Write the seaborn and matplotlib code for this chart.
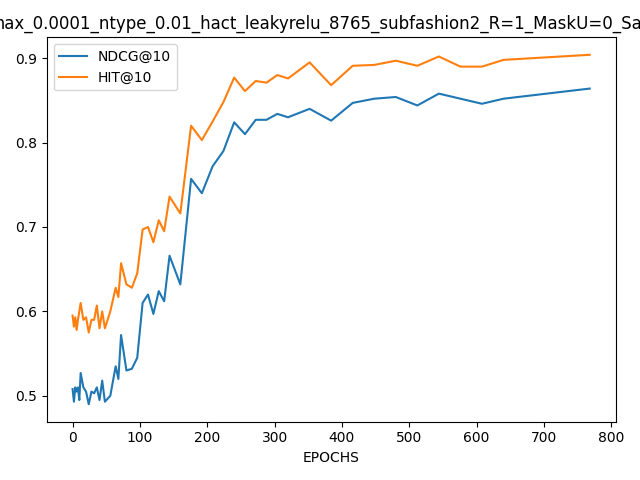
import matplotlib
matplotlib.use("Agg")
import matplotlib.pyplot as plt
import seaborn as sns
import pandas as pd

epochs = [0,2,4,6,8,10,12,16,20,24,28,32,36,40,44,48,56,64,68,72,80,88,96,104,112,120,128,136,144,160,176,192,208,224,240,256,272,288,304,320,352,384,416,448,480,512,544,576,608,640,704,768]
ndcg = [0.508,0.493,0.51,0.505,0.51,0.495,0.527,0.51,0.505,0.49,0.505,0.503,0.51,0.495,0.518,0.493,0.5,0.535,0.52,0.572,0.53,0.532,0.545,0.61,0.62,0.597,0.624,0.612,0.666,0.632,0.757,0.74,0.772,0.79,0.824,0.81,0.827,0.827,0.834,0.83,0.84,0.826,0.847,0.852,0.854,0.844,0.858,0.852,0.846,0.852,0.858,0.864]
hit = [0.595,0.582,0.593,0.578,0.59,0.6,0.61,0.59,0.593,0.575,0.59,0.59,0.607,0.58,0.6,0.58,0.6,0.628,0.617,0.657,0.632,0.628,0.645,0.697,0.7,0.682,0.708,0.695,0.736,0.716,0.82,0.803,0.825,0.848,0.877,0.861,0.873,0.871,0.88,0.876,0.895,0.868,0.891,0.892,0.897,0.891,0.902,0.89,0.89,0.898,0.901,0.904]

df = pd.DataFrame({"EPOCHS": epochs, "NDCG@10": ndcg, "HIT@10": hit})
fig, ax = plt.subplots(figsize=(6.4, 4.8), dpi=100)
sns.lineplot(data=df, x="EPOCHS", y="NDCG@10", ax=ax, label="NDCG@10", color="#1f77b4")
sns.lineplot(data=df, x="EPOCHS", y="HIT@10", ax=ax, label="HIT@10", color="#ff7f0e")
ax.set_ylabel("")
ax.set_xlabel("EPOCHS")
ax.legend(loc="upper left")
ax.set_title("max_0.0001_ntype_0.01_hact_leakyrelu_8765_subfashion2_R=1_MaskU=0_Sampl")
fig.tight_layout()
fig.savefig("out.png")
